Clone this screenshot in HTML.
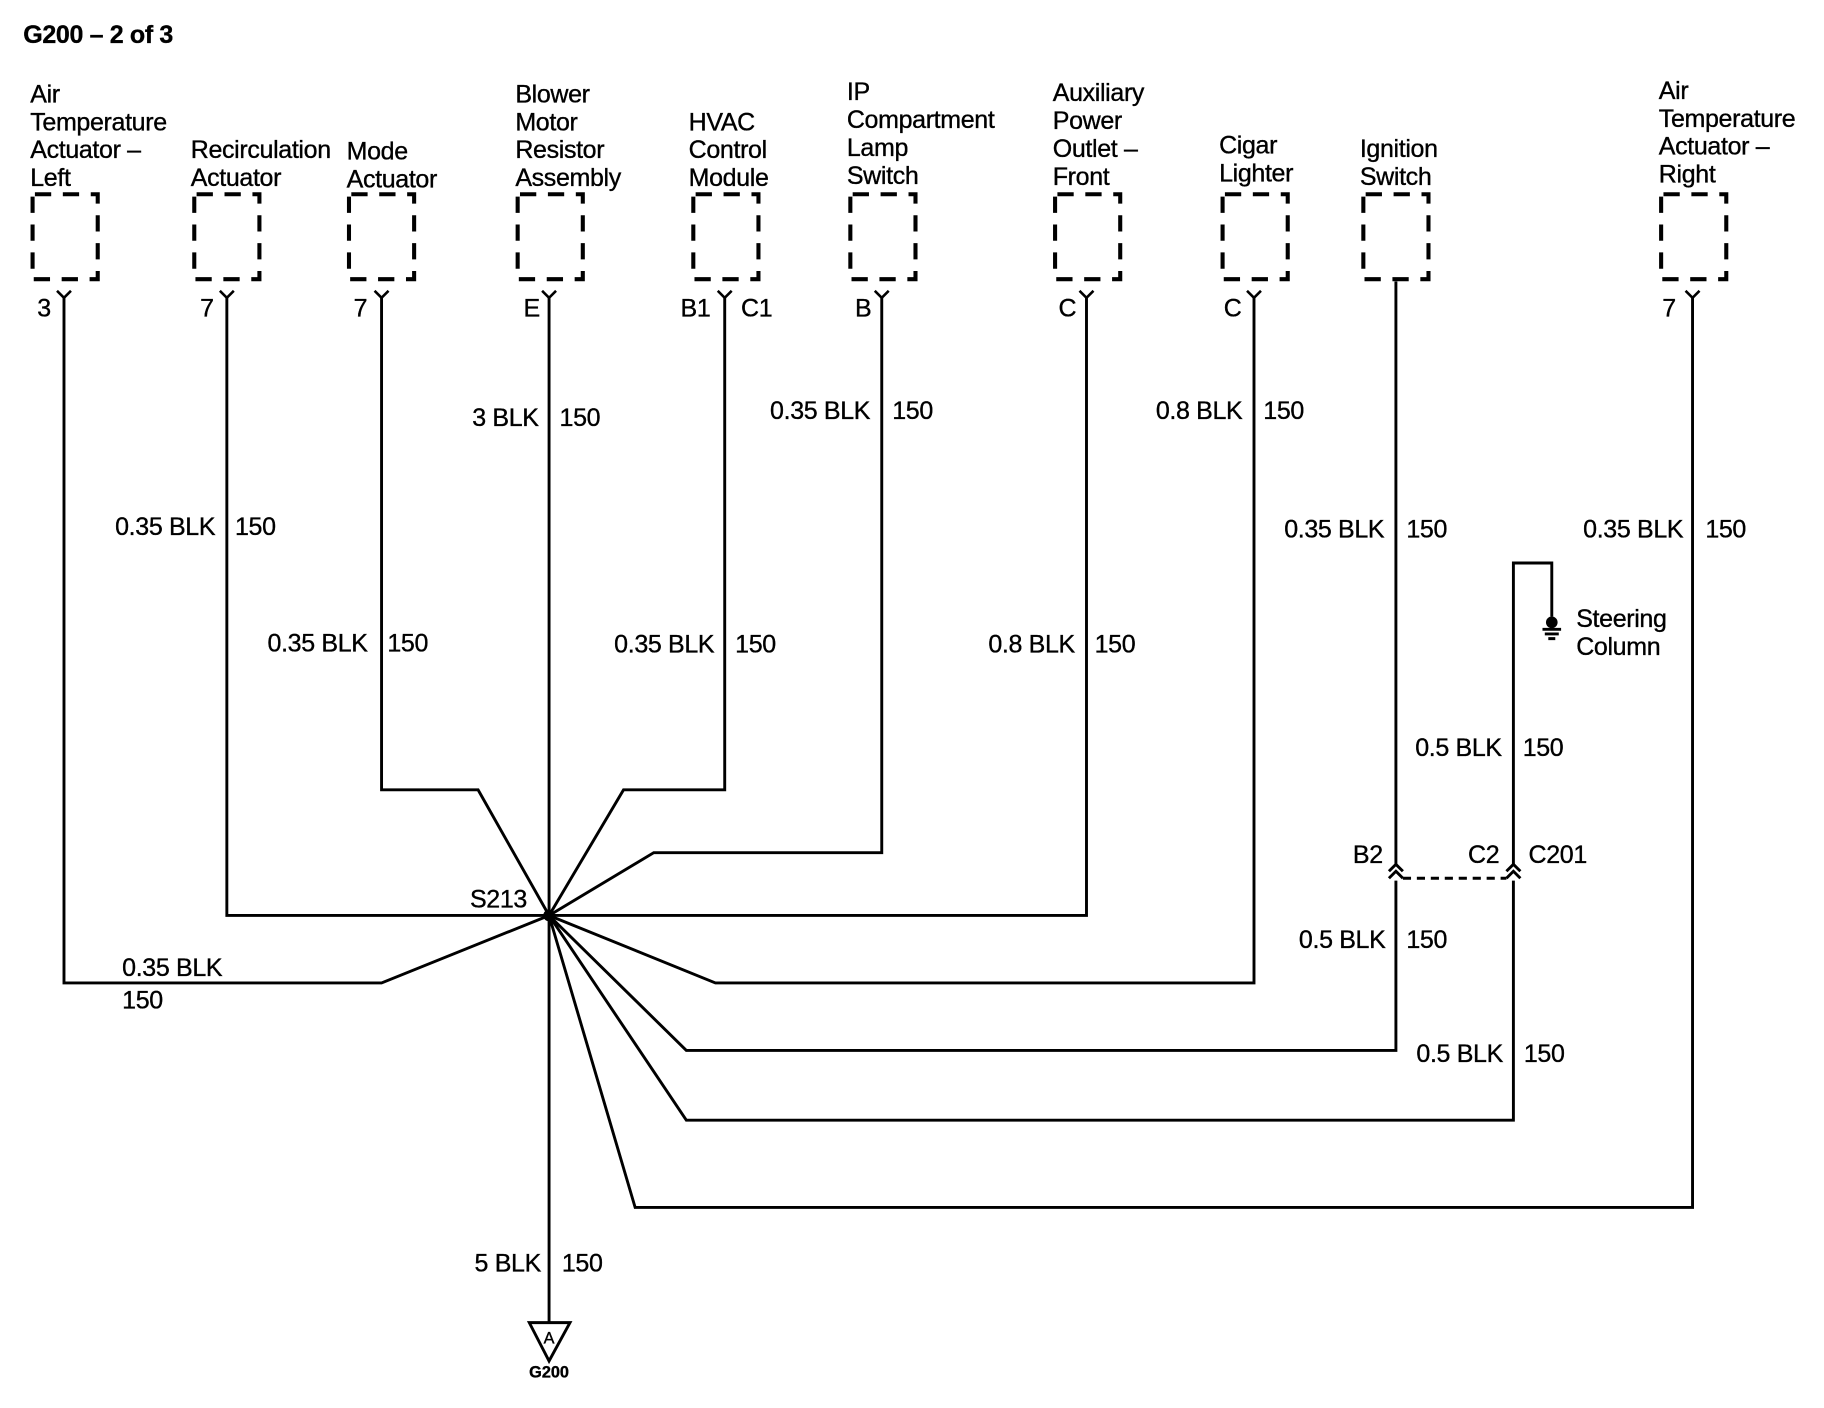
<!DOCTYPE html>
<html><head><meta charset="utf-8"><style>
html,body{margin:0;padding:0;background:#fff}
svg{display:block}
text{font-family:"Liberation Sans",Arial,sans-serif;font-size:21.5px;fill:#000;letter-spacing:-0.3px;stroke:#000;stroke-width:0.3px}
</style></head><body>
<svg width="1824" height="1408" viewBox="0 0 1568 1210.4" xmlns="http://www.w3.org/2000/svg">
<rect width="1568" height="1211" fill="#fff"/>
<text x="20" y="37" font-weight="bold" style="font-size:21.5px">G200 – 2 of 3</text>

<g>
<text x="26" y="88">Air</text><text x="26" y="112">Temperature</text><text x="26" y="136">Actuator –</text><text x="26" y="160">Left</text>
<text x="164" y="136">Recirculation</text><text x="164" y="160">Actuator</text>
<text x="298" y="137">Mode</text><text x="298" y="161">Actuator</text>
<text x="443" y="88">Blower</text><text x="443" y="112">Motor</text><text x="443" y="136">Resistor</text><text x="443" y="160">Assembly</text>
<text x="592" y="112">HVAC</text><text x="592" y="136">Control</text><text x="592" y="160">Module</text>
<text x="728" y="86">IP</text><text x="728" y="110">Compartment</text><text x="728" y="134">Lamp</text><text x="728" y="158">Switch</text>
<text x="905" y="87">Auxiliary</text><text x="905" y="111">Power</text><text x="905" y="135">Outlet –</text><text x="905" y="159">Front</text>
<text x="1048" y="132">Cigar</text><text x="1048" y="156">Lighter</text>
<text x="1169" y="135">Ignition</text><text x="1169" y="159">Switch</text>
<text x="1426" y="85">Air</text><text x="1426" y="109">Temperature</text><text x="1426" y="133">Actuator –</text><text x="1426" y="157">Right</text>
</g>

<g fill="none" stroke="#000" stroke-width="3.5" stroke-dasharray="14,10" stroke-dashoffset="-2">
<rect x="28" y="167" width="56" height="73"/>
<rect x="167" y="167" width="56" height="73"/>
<rect x="300" y="167" width="56" height="73"/>
<rect x="445" y="167" width="56" height="73"/>
<rect x="596" y="167" width="56" height="73"/>
<rect x="731" y="167" width="56" height="73"/>
<rect x="907" y="167" width="56" height="73"/>
<rect x="1051" y="167" width="56" height="73"/>
<rect x="1172" y="167" width="56" height="73"/>
<rect x="1428" y="167" width="56" height="73"/>
</g>

<g fill="none" stroke="#000" stroke-width="2.2">
<path d="M49,250 L55,256 L61,250"/>
<path d="M189,250 L195,256 L201,250"/>
<path d="M322,250 L328,256 L334,250"/>
<path d="M466,250 L472,256 L478,250"/>
<path d="M617,250 L623,256 L629,250"/>
<path d="M752,250 L758,256 L764,250"/>
<path d="M928,250 L934,256 L940,250"/>
<path d="M1072,250 L1078,256 L1084,250"/>
<path d="M1449,250 L1455,256 L1461,250"/>
</g>
<g>
<text x="32" y="272">3</text><text x="172" y="272">7</text><text x="304" y="272">7</text><text x="450" y="272">E</text>
<text x="585" y="272">B1</text><text x="637" y="272">C1</text><text x="735" y="272">B</text><text x="910" y="272">C</text>
<text x="1052" y="272">C</text><text x="1429" y="272">7</text>
</g>

<g fill="none" stroke="#000" stroke-width="2.5">
<path d="M55,256 V845 H328 L472,787"/>
<path d="M195,256 V787 H472"/>
<path d="M328,256 V679 H411 L472,787"/>
<path d="M472,256 V1136"/>
<path d="M623,256 V679 H536 L472,787"/>
<path d="M758,256 V733 H562 L472,787"/>
<path d="M934,256 V787 H472"/>
<path d="M1078,256 V845 H615 L472,787"/>
<path d="M1200,242 V743"/>
<path d="M1200,757 V903 H590 L472,787"/>
<path d="M1301,743 V484 H1334 V530"/>
<path d="M1301,757 V963 H590 L472,787"/>
<path d="M1455,256 V1038 H546 L472,787"/>
<path d="M1194,749 L1200,743 L1206,749 M1194,755 L1200,749 L1206,755"/>
<path d="M1295,749 L1301,743 L1307,749 M1295,755 L1301,749 L1307,755"/>
<path d="M1206,755 H1295" stroke-dasharray="7,5"/>
<path d="M1326,541 H1342 M1328,545 H1340 M1331,549 H1337"/>
<path d="M455,1137 H490 L472,1170 Z"/>
</g>
<circle cx="472" cy="787" r="5" fill="#000"/>
<circle cx="1334" cy="535" r="5" fill="#000"/>

<g>
<text x="185" y="460" text-anchor="end">0.35 BLK</text><text x="202" y="460">150</text>
<text x="316" y="560" text-anchor="end">0.35 BLK</text><text x="333" y="560">150</text>
<text x="463" y="366" text-anchor="end">3 BLK</text><text x="481" y="366">150</text>
<text x="614" y="561" text-anchor="end">0.35 BLK</text><text x="632" y="561">150</text>
<text x="748" y="360" text-anchor="end">0.35 BLK</text><text x="767" y="360">150</text>
<text x="924" y="561" text-anchor="end">0.8 BLK</text><text x="941" y="561">150</text>
<text x="1068" y="360" text-anchor="end">0.8 BLK</text><text x="1086" y="360">150</text>
<text x="1190" y="462" text-anchor="end">0.35 BLK</text><text x="1209" y="462">150</text>
<text x="1447" y="462" text-anchor="end">0.35 BLK</text><text x="1466" y="462">150</text>
<text x="1291" y="650" text-anchor="end">0.5 BLK</text><text x="1309" y="650">150</text>
<text x="1191" y="815" text-anchor="end">0.5 BLK</text><text x="1209" y="815">150</text>
<text x="1292" y="913" text-anchor="end">0.5 BLK</text><text x="1310" y="913">150</text>
<text x="105" y="839">0.35 BLK</text><text x="105" y="867">150</text>
<text x="465" y="1093" text-anchor="end">5 BLK</text><text x="483" y="1093">150</text>
<text x="404" y="780">S213</text>
<text x="1163" y="742">B2</text><text x="1262" y="742">C2</text><text x="1314" y="742">C201</text>
<text x="1355" y="539">Steering</text><text x="1355" y="563">Column</text>
<text x="472" y="1155" text-anchor="middle" style="font-size:14px;letter-spacing:0">A</text>
<text x="472" y="1184" text-anchor="middle" font-weight="bold" style="font-size:14px;letter-spacing:0">G200</text>
</g>
</svg>
</body></html>
